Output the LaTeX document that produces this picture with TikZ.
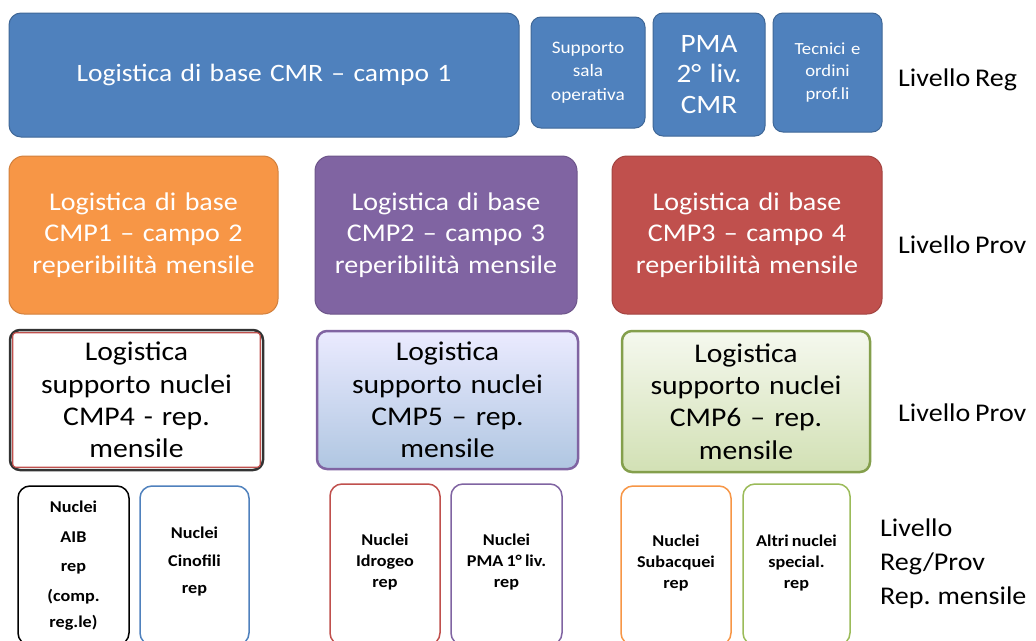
\documentclass[tikz,border=0pt]{standalone}
\usepackage{fontspec}
\setmainfont{Carlito}[FakeStretch=1.1, WordSpace={0.75,0.5,0.3}]
\definecolor{oblue}{HTML}{4F81BD}
\definecolor{oorange}{HTML}{F79646}
\definecolor{opurple}{HTML}{8064A2}
\definecolor{ored}{HTML}{C0504D}
\definecolor{ogreen}{HTML}{9BBB59}
\tikzset{
  box/.style={rectangle, rounded corners=12pt, inner sep=0pt, align=center, line width=1pt},
  topbox/.style={box, fill=oblue, draw=oblue!80!black, text=white},
  midbox/.style={box, rounded corners=15pt, text=white, font=\fontsize{25.5}{31.5}\selectfont},
  supbox/.style={box, rounded corners=10pt, line width=2.5pt, text=black, font=\fontsize{27}{32.3}\selectfont},
  nucbox/.style={box, rounded corners=12pt, line width=1.5pt, fill=white},
  nuctext/.style={inner sep=0pt, align=center, text=black, font=\bfseries\fontsize{16.5}{21}\selectfont},
  lvl/.style={anchor=west, inner sep=0pt, align=left, text=black, font=\fontsize{25.5}{34}\selectfont},
}
\newcommand{\bx}[7]{%
  \node[#6, minimum width=#4-#2, minimum height=#5-#3, text width=#4-#2-4] (#1) at ({(#2+#4)/2},{(#3+#5)/2}) {#7};}
\begin{document}
\begin{tikzpicture}[x=1pt,y=-1pt]
\useasboundingbox[fill=white] (0,0) rectangle (1036,640);
% Row 1
\bx{cmr}{9}{13}{519}{137}{topbox, font=\fontsize{25}{30}\selectfont}{Logistica di base CMR -- campo 1}
\bx{sala}{531}{17}{645}{128}{topbox, rounded corners=10pt, font=\fontsize{17.5}{23.5}\selectfont}{Supporto\\sala\\operativa}
\bx{pma}{653}{13}{765}{136}{topbox, rounded corners=10pt, font=\fontsize{26.5}{30.5}\selectfont}{PMA\\2° liv.\\CMR}
\bx{tec}{773}{13}{882}{132}{topbox, rounded corners=10pt, font=\fontsize{17}{22.5}\selectfont}{Tecnici e\\ordini\\prof.li}
\node[lvl] (l1) at (898,80) {Livello Reg};
% Row 2
\bx{cmp1}{9}{156}{278}{314}{midbox, fill=oorange, draw=oorange!85!black}{Logistica di base\\CMP1 -- campo 2\\reperibilità mensile}
\bx{cmp2}{315}{156}{577}{314}{midbox, fill=opurple, draw=opurple!85!black}{Logistica di base\\CMP2 -- campo 3\\reperibilità mensile}
\bx{cmp3}{612}{156}{882}{314}{midbox, fill=ored, draw=ored!85!black}{Logistica di base\\CMP3 -- campo 4\\reperibilità mensile}
\node[lvl] (l2) at (898,245) {Livello Prov};
% Row 3
\bx{cmp4}{10}{330}{263}{470}{supbox, draw=black!80, fill=white}{Logistica\\supporto nuclei\\CMP4 - rep.\\mensile}
\draw[ored, line width=1.2pt, rounded corners=3pt] ([shift={(4,-4)}]cmp4.south west) rectangle ([shift={(-4,4)}]cmp4.north east);
\bx{cmp5}{317}{331}{578}{469}{supbox, draw=opurple, top color=blue!8!white, bottom color=oblue!45!white}{Logistica\\supporto nuclei\\CMP5 -- rep.\\mensile}
\bx{cmp6}{622}{331}{870}{472}{supbox, draw=ogreen!85!black, top color=ogreen!10!white, bottom color=ogreen!45!white}{Logistica\\supporto nuclei\\CMP6 -- rep.\\mensile}
\node[lvl] (l3) at (898,413) {Livello Prov};
% Row 4
\bx{aib}{18}{486}{129}{645}{nucbox, draw=black}{}
\node[nuctext, font=\bfseries\fontsize{16.5}{29.5}\selectfont] (aibt) at (73.5,566) {Nuclei\\AIB\\rep\\(comp.\\[-3pt]reg.le)};
\bx{cin}{140}{486}{249}{645}{nucbox, draw=oblue}{}
\node[nuctext, font=\bfseries\fontsize{16.5}{27.5}\selectfont] (cint) at (194.5,562) {Nuclei\\Cinofili\\rep};
\bx{idr}{330}{484}{440}{645}{nucbox, draw=ored}{}
\node[nuctext] (idrt) at (385,562) {Nuclei\\Idrogeo\\rep};
\bx{pma1}{451}{484}{562}{645}{nucbox, draw=opurple}{}
\node[nuctext] (pma1t) at (506.5,562) {Nuclei\\PMA 1° liv.\\rep};
\bx{sub}{621}{486}{731}{645}{nucbox, draw=oorange}{}
\node[nuctext] (subt) at (676,563) {Nuclei\\Subacquei\\rep};
\bx{alt}{743}{484}{850}{645}{nucbox, draw=ogreen}{}
\node[nuctext] (altt) at (796.5,563) {Altri nuclei\\special.\\rep};
\node[lvl] (l4) at (880,564) {Livello\\Reg/Prov\\Rep. mensile};
\end{tikzpicture}
\end{document}
